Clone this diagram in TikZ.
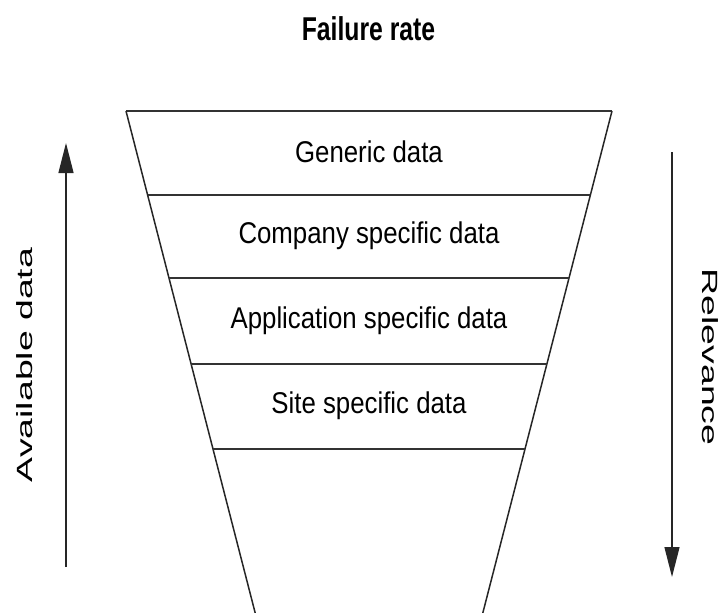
\documentclass[tikz,border=0pt]{standalone}
\usepackage{fontspec}
\usepackage{graphicx}
\setmainfont{Liberation Sans}
\usetikzlibrary{arrows.meta,calc}
\begin{document}
\begin{tikzpicture}[x=1pt,y=-1pt,
  side/.style={line width=1.5pt, draw=black!85},
  sep/.style={line width=2pt, draw=black!80},
  layer/.style={inner sep=0pt, font=\fontsize{30}{32}\selectfont},
  title/.style={inner sep=0pt, font=\bfseries\fontsize{33}{35}\selectfont},
  axislabel/.style={inner sep=0pt, font=\fontsize{22}{24}\selectfont},
  axis/.style={line width=1.3pt, draw=black!85, -{Triangle[length=30pt,width=15pt]}},
  ]
\useasboundingbox (0,0) rectangle (721,613);

% funnel outline
\coordinate (tl) at (126,111);
\coordinate (tr) at (612,111);
\coordinate (bl) at (255.2,613);
\coordinate (br) at (482.8,613);
\draw[sep] (tl) -- (tr);
\draw[side] (tl) -- (bl);
\draw[side] (tr) -- (br);

% layer separators
\foreach \t [count=\i] in {0.1673,0.3327,0.5040,0.6733}{
  \coordinate (l\i) at ($(tl)!\t!(bl)$);
  \coordinate (r\i) at ($(tr)!\t!(br)$);
  \draw[sep] (l\i) -- (r\i);
}

% layer texts
\node[layer] (generic) at (369,152) {\scalebox{0.86}[1]{Generic data}};
\node[layer] (company) at (369,236) {\scalebox{0.86}[1]{Company specific data}};
\node[layer] (application) at (369,321) {\scalebox{0.86}[1]{Application specific data}};
\node[layer] (site) at (369,406) {\scalebox{0.86}[1]{Site specific data}};

% heading
\node[title] (heading) at (368.5,29) {\scalebox{0.75}[1]{Failure rate}};

% side axes
\coordinate (avlow) at (66,567);
\coordinate (avhigh) at (66,143);
\draw[axis] (avlow) -- (avhigh);
\node[axislabel, rotate=90] (avail) at (25,365) {\scalebox{1.7}[1]{Available data}};

\coordinate (relhigh) at (672,152);
\coordinate (rellow) at (672,577);
\draw[axis] (relhigh) -- (rellow);
\node[axislabel, rotate=-90] (relev) at (710.5,357) {\scalebox{1.7}[1]{Relevance}};
\end{tikzpicture}
\end{document}
